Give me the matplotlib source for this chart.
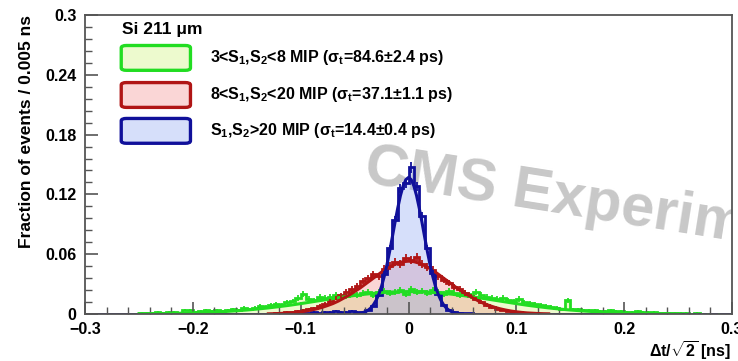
import numpy as np
import matplotlib
matplotlib.use('Agg')
import matplotlib.pyplot as plt
from matplotlib.patches import FancyBboxPatch
from matplotlib.ticker import MultipleLocator

plt.rcParams['font.family'] = ['Liberation Sans', 'DejaVu Sans']
plt.rcParams['font.weight'] = 'bold'
plt.rcParams['mathtext.fontset'] = 'custom'
plt.rcParams['mathtext.rm'] = 'Liberation Sans:bold'
plt.rcParams['mathtext.it'] = 'Liberation Sans:bold'
plt.rcParams['mathtext.bf'] = 'Liberation Sans:bold'
plt.rcParams['mathtext.default'] = 'rm'

# histogram bins: 0.005 ns wide, each series starts at its own left edge
bin_w = 0.005

green_start = -0.25
green_vals = [0.001, 0.001, 0.001, 0.002, 0.001, 0.002, 0.002, 0.001, 0.004, 0.004,
              0.002, 0.003, 0.004, 0.003, 0.004, 0.003, 0.004, 0.005, 0.004, 0.006,
              0.005, 0.006, 0.008, 0.007, 0.009, 0.010, 0.009, 0.012, 0.013, 0.016,
              0.020, 0.015, 0.014, 0.017, 0.016, 0.017, 0.019, 0.017, 0.018, 0.020,
              0.019, 0.021, 0.022, 0.019, 0.022, 0.023, 0.021, 0.022, 0.024, 0.020,
              0.025, 0.022, 0.023, 0.021, 0.024, 0.022, 0.020, 0.023, 0.021, 0.019,
              0.021, 0.018, 0.022, 0.019, 0.017, 0.016, 0.015, 0.016, 0.014, 0.013,
              0.015, 0.012, 0.011, 0.010, 0.009, 0.008, 0.007, 0.006, 0.005, 0.014,
              0.005, 0.005, 0.004, 0.004, 0.004, 0.003, 0.003, 0.004, 0.003, 0.003,
              0.002, 0.002, 0.003, 0.002, 0.002, 0.002, 0.001, 0.001, 0.001, 0.001,
              0.001, 0.001, 0.0005, 0.001, 0.0005, 0.0005, 0.0, 0.0005, 0.0, 0.0]

red_start = -0.125
red_vals = [0.001, 0.001, 0.002, 0.002, 0.003,
            0.004, 0.005, 0.006, 0.008, 0.010, 0.013, 0.016, 0.019, 0.022, 0.025,
            0.028, 0.033, 0.036, 0.040, 0.038, 0.045, 0.048, 0.052, 0.050, 0.056,
            0.054, 0.057, 0.050, 0.047, 0.044, 0.038, 0.034, 0.031, 0.027, 0.025,
            0.021, 0.018, 0.015, 0.012, 0.009, 0.007, 0.005, 0.004, 0.003, 0.002,
            0.002, 0.001, 0.001, 0.001, 0.0005]

blue_start = -0.10
blue_vals = [0.001, 0.001, 0.002, 0.001, 0.002, 0.002, 0.003, 0.002, 0.002, 0.003,
             0.002, 0.002, 0.004, 0.008, 0.019, 0.040, 0.066, 0.094, 0.126, 0.131,
             0.147, 0.128, 0.098, 0.066, 0.041, 0.020, 0.009, 0.004, 0.002, 0.001,
             0.001, 0.001, 0.0005, 0.0005, 0.0005]

# fitted curves, sampled
blue_fit_start, blue_fit_step = -0.05, 0.0025
blue_fit = [0.0002, 0.0004, 0.0008, 0.0014, 0.0023, 0.0038, 0.0060, 0.0093, 0.0138, 0.0199,
            0.0278, 0.0377, 0.0494, 0.0627, 0.0772, 0.0920, 0.1061, 0.1187, 0.1285, 0.1348,
            0.137,
            0.1348, 0.1285, 0.1187, 0.1061, 0.0920, 0.0772, 0.0627, 0.0494, 0.0377, 0.0278,
            0.0199, 0.0138, 0.0093, 0.0060, 0.0038, 0.0023, 0.0014, 0.0008, 0.0004, 0.0002]

red_fit_start, red_fit_step = -0.13, 0.005
red_fit = [0.0002, 0.0003, 0.0005, 0.0008, 0.0011, 0.0016, 0.0022, 0.003, 0.004, 0.0052,
           0.0067, 0.0085, 0.0105, 0.013, 0.016, 0.019, 0.0225, 0.026, 0.030, 0.034,
           0.038, 0.042, 0.0455, 0.0485, 0.051, 0.0525,
           0.053,
           0.0525, 0.051, 0.0485, 0.0455, 0.042, 0.038, 0.034, 0.030, 0.026, 0.0225,
           0.019, 0.016, 0.013, 0.0105, 0.0085, 0.0067, 0.0052, 0.004, 0.003, 0.0022,
           0.0016, 0.0011, 0.0008, 0.0005, 0.0003, 0.0002]

green_fit_start, green_fit_step = -0.25, 0.01
green_fit = [0.0002, 0.0003, 0.0004, 0.0006, 0.0008, 0.0011, 0.0015, 0.0019, 0.0025, 0.0032,
             0.0040, 0.0050, 0.0061, 0.0074, 0.0088, 0.0104, 0.0121, 0.0138, 0.0155, 0.0171,
             0.0186, 0.0199, 0.0210, 0.0218, 0.0223,
             0.0225,
             0.0223, 0.0218, 0.0210, 0.0199, 0.0186, 0.0171, 0.0155, 0.0138, 0.0121, 0.0104,
             0.0088, 0.0074, 0.0061, 0.0050, 0.0040, 0.0032, 0.0025, 0.0019, 0.0015, 0.0011,
             0.0008, 0.0006, 0.0004, 0.0003, 0.0002]

labels = [r'3<S$_1$,S$_2$<8 MIP ($\sigma_t$=84.6$\pm$2.4 ps)',
          r'8<S$_1$,S$_2$<20 MIP ($\sigma_t$=37.1$\pm$1.1 ps)',
          r'S$_1$,S$_2$>20 MIP ($\sigma_t$=14.4$\pm$0.4 ps)']
line_colors = ['#22dd22', '#b01515', '#10109a']
fill_colors = [(0.80, 0.95, 0.45, 0.35), (0.95, 0.55, 0.55, 0.35), (0.55, 0.65, 0.95, 0.35)]
err_scale = [0.021, 0.018, 0.0134]

edges = np.round(np.arange(-0.3, 0.3001, bin_w), 4)


def full_hist(start, vals):
    h = np.zeros(len(edges) - 1)
    i0 = int(round((start + 0.3) / bin_w))
    h[i0:i0 + len(vals)] = vals
    return h


hists = [full_hist(green_start, green_vals), full_hist(red_start, red_vals),
         full_hist(blue_start, blue_vals)]
fits = [(green_fit_start, green_fit_step, green_fit), (red_fit_start, red_fit_step, red_fit),
        (blue_fit_start, blue_fit_step, blue_fit)]
centers = 0.5 * (edges[1:] + edges[:-1])

fig = plt.figure(figsize=(7.38, 3.61), dpi=100)
ax = fig.add_axes([85 / 738, 1 - 314 / 361, 647 / 738, 299 / 361])

for h, fc in zip(hists, fill_colors):
    ax.stairs(h, edges, fill=True, color=fc, lw=0)

for h, (fs, fstep, fv), lc, k in zip(hists, fits, line_colors, err_scale):
    ax.stairs(h, edges, color=lc, lw=2.0)
    m = h > 0
    ax.errorbar(centers[m], h[m], yerr=k * np.sqrt(h[m]), fmt='none', ecolor=lc, elinewidth=1.3)
    fx = fs + fstep * np.arange(len(fv))
    ax.plot(fx, fv, color=lc, lw=2.2)

ax.set_xlim(-0.3, 0.3)
ax.set_ylim(0, 0.3)
ax.set_xticks([-0.3, -0.2, -0.1, 0, 0.1, 0.2, 0.3])
ax.set_xticklabels(['\u22120.3', '\u22120.2', '\u22120.1', '0', '0.1', '0.2', '0.3'])
ax.set_yticks([0, 0.06, 0.12, 0.18, 0.24, 0.3])
ax.set_yticklabels(['0', '0.06', '0.12', '0.18', '0.24', '0.3'])
ax.xaxis.set_minor_locator(MultipleLocator(0.02))
ax.yaxis.set_minor_locator(MultipleLocator(0.012))
ax.tick_params(which='major', direction='in', length=9, width=1.2, labelsize=11.5,
               colors='#555555', labelcolor='black')
ax.tick_params(which='minor', direction='in', length=5, width=1.0, colors='#555555')
ax.tick_params(axis='x', pad=6)
ax.tick_params(axis='y', pad=6)
for s in ax.spines.values():
    s.set_color('#555555')
    s.set_linewidth(1.3)

ax.set_ylabel('Fraction of events / 0.005 ns', fontsize=12.5, fontweight='bold', loc='top',
              labelpad=8)
fig.text(0.99, 0.03, r'$\Delta$t/$\sqrt{2}$ [ns]', ha='right', va='center', fontsize=11.5)

# watermark
ax.text(0.43, 0.44, 'CMS Experiment', transform=ax.transAxes, fontsize=43,
        fontweight='bold', color='#c8c8c8', rotation=-9, rotation_mode='anchor',
        ha='left', va='baseline', clip_on=True, zorder=0)

# legend
ax.text(0.057, 0.95, 'Si 211 \u03bcm', transform=ax.transAxes, fontsize=12.5,
        ha='left', va='center')
box_tops = [0.900, 0.776, 0.656]
for top, lc, fc, lab in zip(box_tops, line_colors, fill_colors, labels):
    ax.add_patch(FancyBboxPatch((0.056, top - 0.085), 0.107, 0.083,
                                boxstyle='round,pad=0,rounding_size=0.008',
                                transform=ax.transAxes, facecolor=fc, edgecolor=lc,
                                lw=2.4, zorder=5))
    ax.text(0.193, top - 0.043, lab, transform=ax.transAxes, fontsize=11.5,
            ha='left', va='center', zorder=5)

fig.savefig('out.png', dpi=100)
